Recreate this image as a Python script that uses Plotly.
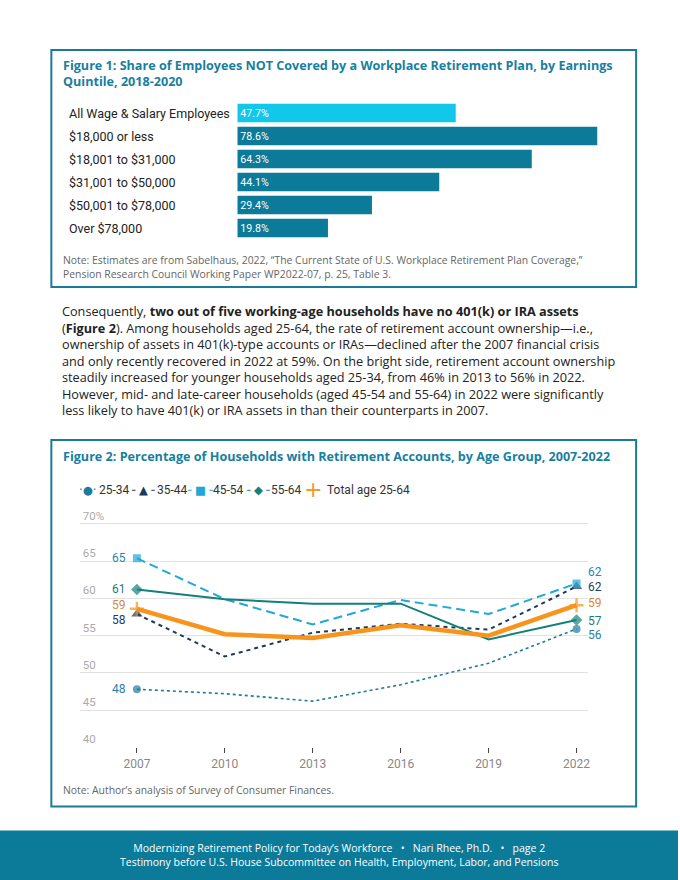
import plotly.graph_objects as go

W, H = 680, 880
def px(x): return x / W
def py(y): return 1 - y / H

# ---------------- Data ----------------
fig1_categories = ["All Wage & Salary Employees", "$18,000 or less", "$18,001 to $31,000",
                   "$31,001 to $50,000", "$50,001 to $78,000", "Over $78,000"]
fig1_values = [47.7, 78.6, 64.3, 44.1, 29.4, 19.8]

years = [2007, 2010, 2013, 2016, 2019, 2022]
age_25_34 = [47.8, 47.2, 46.2, 48.4, 51.3, 55.9]
age_35_44 = [57.9, 52.2, 55.4, 56.6, 55.8, 61.6]
age_45_54 = [65.4, 59.9, 56.5, 59.8, 57.9, 62.0]
age_55_64 = [61.2, 59.9, 59.3, 59.3, 54.5, 57.1]
total_25_64 = [58.6, 55.2, 54.7, 56.4, 55.0, 59.1]
series_names = ["25-34", "35-44", "45-54", "55-64", "Total age 25-64"]
y_ticks = [40, 45, 50, 55, 60, 65, 70]
y_ticktext = ["40", "45", "50", "55", "60", "65", "70%"]

# ---------------- Styles ----------------
TEAL = "#1a7a99"
TITLE_C = "#17809f"
BAR_LIGHT = "#12c8ea"
BAR_DARK = "#0b7b99"
BODY_FONT = "Open Sans"
CHART_FONT = "Roboto"
SYM_FONT = "DejaVu Sans"

series = [
    dict(name=series_names[0], y=age_25_34, color="#1f7aa0", dash="dot", width=1.6,
         symbol="circle", size=8, lab_color="#2b7fa6", lshift=0, rshift=-6,
         glyph="\u00b7\u25cf\u00b7", leg_sym_x=88, leg_txt_x=98.5),
    dict(name=series_names[1], y=age_35_44, color="#1c3a5c", dash="4px,4px", width=2,
         symbol="triangle-up", size=10, lab_color="#1f3b5e", lshift=-6, rshift=0,
         glyph="\u2574\u25b2\u2576", leg_sym_x=144, leg_txt_x=156),
    dict(name=series_names[2], y=age_45_54, color="#21a8d5", dash="9px,5px", width=2,
         symbol="square", size=8, lab_color="#2a86ad", lshift=0, rshift=12,
         glyph="\u2574\u25a0\u2576", leg_sym_x=201, leg_txt_x=213),
    dict(name=series_names[3], y=age_55_64, color="#14807a", dash="solid", width=2,
         symbol="diamond", size=9, lab_color="#1d7c78", lshift=0, rshift=-1,
         glyph="\u2574\u25c6\u2576", leg_sym_x=259, leg_txt_x=270.5),
    dict(name=series_names[4], y=total_25_64, color="#f7941d", dash="solid", width=4.5,
         symbol="cross-thin", size=10, lab_color="#d9873a", lshift=4, rshift=2,
         glyph="\u257a\u254b\u2578", leg_sym_x=314, leg_txt_x=327),
]

fig = go.Figure()

# ---------------- Figure 1: bars ----------------
fig.add_trace(go.Bar(
    y=fig1_categories, x=fig1_values, orientation="h",
    marker=dict(color=[BAR_LIGHT] + [BAR_DARK] * (len(fig1_values) - 1), line=dict(width=0)),
    text=[f"{v}%" for v in fig1_values], textposition="inside", insidetextanchor="start",
    textfont=dict(color="white", size=12, family=CHART_FONT), textangle=0,
    width=0.8, xaxis="x", yaxis="y", showlegend=False, hoverinfo="skip",
))

annotations = []
for c in fig1_categories:
    annotations.append(dict(xref="paper", yref="y", x=px(67), y=c, text=c, showarrow=False,
                            xanchor="left", yanchor="middle",
                            font=dict(family=CHART_FONT, size=12.5, color="#222")))

# ---------------- Figure 2: lines ----------------
for s in series:
    n = len(years)
    sizes = [s["size"]] + [0] * (n - 2) + [s["size"]]
    mline = dict(width=2.5 if s["symbol"] == "cross-thin" else 0, color=s["color"])
    fig.add_trace(go.Scatter(
        x=years, y=s["y"], mode="lines+markers", xaxis="x2", yaxis="y2", name=s["name"],
        line=dict(color=s["color"], dash=s["dash"], width=s["width"]),
        marker=dict(symbol=s["symbol"], size=sizes, color=s["color"], line=mline),
        showlegend=False, cliponaxis=False, hoverinfo="skip",
    ))
    # end labels
    annotations.append(dict(xref="x2", yref="y2", x=years[0], y=s["y"][0],
                            text=str(round(s["y"][0])), showarrow=False, xanchor="right",
                            yanchor="middle", xshift=-9, yshift=s["lshift"],
                            font=dict(family=CHART_FONT, size=12, color=s["lab_color"])))
    annotations.append(dict(xref="x2", yref="y2", x=years[-1], y=s["y"][-1],
                            text=str(round(s["y"][-1])), showarrow=False, xanchor="left",
                            yanchor="middle", xshift=9, yshift=s["rshift"],
                            font=dict(family=CHART_FONT, size=12, color=s["lab_color"])))
    # legend (text-based key, as in the source)
    annotations.append(dict(xref="paper", yref="paper", x=px(s["leg_sym_x"]), y=py(490),
                            text=s["glyph"], showarrow=False, xanchor="center", yanchor="middle",
                            borderpad=0,
                            font=dict(family=SYM_FONT, size=11.5, color=s["color"])))
    annotations.append(dict(xref="paper", yref="paper", x=px(s["leg_txt_x"]), y=py(490),
                            text=s["name"], showarrow=False, xanchor="left", yanchor="middle",
                            borderpad=0,
                            font=dict(family=CHART_FONT, size=12, color="#333")))

# ---------------- Text blocks ----------------
def txt(x, y, text, size, color, family=BODY_FONT, xanchor="left", align="left"):
    annotations.append(dict(xref="paper", yref="paper", x=px(x), y=py(y), text=text,
                            showarrow=False, xanchor=xanchor, yanchor="middle", align=align,
                            font=dict(family=family, size=size, color=color)))

txt(61, 73.25, "<b>Figure 1: Share of Employees NOT Covered by a Workplace Retirement Plan, by Earnings</b>"
    "<br><b>Quintile, 2018-2020</b>", 12.6, TITLE_C)
txt(61, 266.75, "Note: Estimates are from Sabelhaus, 2022, \u201cThe Current State of U.S. Workplace Retirement Plan Coverage,\u201d"
    "<br>Pension Research Council Working Paper WP2022-07, p. 25, Table 3.", 10.4, "#666")

body = [
    "Consequently, <b>two out of five working-age households have no 401(k) or IRA assets</b>",
    "(<b>Figure 2</b>). Among households aged 25-64, the rate of retirement account ownership\u2014i.e.,",
    "ownership of assets in 401(k)-type accounts or IRAs\u2014declined after the 2007 financial crisis",
    "and only recently recovered in 2022 at 59%. On the bright side, retirement account ownership",
    "steadily increased for younger households aged 25-34, from 46% in 2013 to 56% in 2022.",
    "However, mid- and late-career households (aged 45-54 and 55-64) in 2022 were significantly",
    "less likely to have 401(k) or IRA assets in than their counterparts in 2007.",
]
txt(60, 361, "<br>".join(body), 12.7, "#222")

txt(61, 456, "<b>Figure 2: Percentage of Households with Retirement Accounts, by Age Group, 2007-2022</b>", 12.6, TITLE_C)
txt(61, 790, "Note: Author\u2019s analysis of Survey of Consumer Finances.", 10.4, "#666")

txt(340, 855.25, "Modernizing Retirement Policy for Today\u2019s Workforce &nbsp; \u2022 &nbsp; Nari Rhee, Ph.D. &nbsp; \u2022 &nbsp; page 2"
    "<br>Testimony before U.S. House Subcommittee on Health, Employment, Labor, and Pensions",
    10.5, "white", xanchor="center", align="center")

# ---------------- Shapes ----------------
shapes = [
    dict(type="rect", xref="paper", yref="paper", x0=px(51.5), x1=px(638), y0=py(287), y1=py(50),
         line=dict(color=TEAL, width=2), fillcolor="rgba(0,0,0,0)", layer="below"),
    dict(type="rect", xref="paper", yref="paper", x0=px(51.5), x1=px(638), y0=py(806.5), y1=py(440),
         line=dict(color=TEAL, width=2), fillcolor="rgba(0,0,0,0)", layer="below"),
    dict(type="rect", xref="paper", yref="paper", x0=0, x1=1, y0=0, y1=py(830.5),
         line=dict(width=0), fillcolor="#0b7b99", layer="below"),
]

# y axis 2: 70 at y=524px, 40 at y=747.3px; extend top so the "70%" label fits inside
Y2_TOP = 74
y2_px_per_unit = (747.3 - 524) / 30
fig.update_layout(
    width=W, height=H, margin=dict(l=0, r=0, t=0, b=0),
    paper_bgcolor="white", plot_bgcolor="white", showlegend=False,
    xaxis=dict(domain=[px(238), px(238 + 80 * 4.593)], range=[0, 80], visible=False, fixedrange=True),
    yaxis=dict(domain=[py(239.5), py(101.5)], range=[5.5, -0.5], visible=False,
               categoryorder="array", categoryarray=fig1_categories, fixedrange=True),
    xaxis2=dict(domain=[px(80), px(590)], range=[2005.05, 2022.4], anchor="y2",
                tickvals=years, ticks="outside", ticklen=5, tickwidth=1, tickcolor="#444",
                showgrid=False, showline=False, zeroline=False, fixedrange=True,
                tickfont=dict(family=CHART_FONT, size=12, color="#888")),
    yaxis2=dict(domain=[py(747.3), py(524 - (Y2_TOP - 70) * y2_px_per_unit)], range=[40, Y2_TOP],
                anchor="x2", tickvals=y_ticks, ticktext=y_ticktext, ticklabelposition="inside top",
                showgrid=True, gridcolor="#e2e2e2", gridwidth=1, showline=False, zeroline=False,
                ticks="", fixedrange=True, tickfont=dict(family=CHART_FONT, size=11.5, color="#aaa")),
    annotations=annotations, shapes=shapes, bargap=0.2,
)

fig.write_html("out.html", config={"displayModeBar": False},
               post_script="document.body.style.margin='0';document.body.style.overflow='hidden';")
